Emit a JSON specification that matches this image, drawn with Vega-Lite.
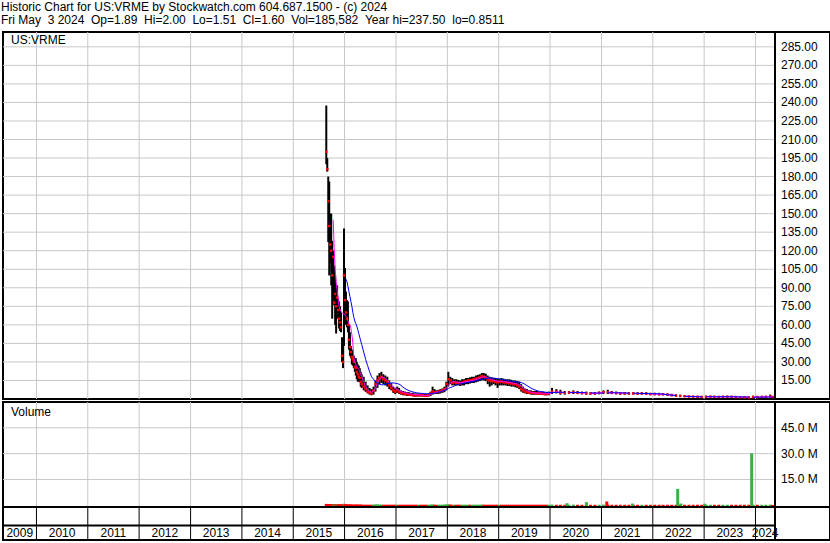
{
 "$schema": "https://vega.github.io/schema/vega-lite/v6.json",
 "background": "white",
 "padding": {"left": 1, "top": 0, "right": 0, "bottom": 0},
 "bounds": "flush",
 "title": {
  "text": ["Historic Chart for US:VRME by Stockwatch.com 604.687.1500 - (c) 2024", "Fri May \u00a03 2024 \u00a0Op=1.89 \u00a0Hi=2.00 \u00a0Lo=1.51 \u00a0Cl=1.60 \u00a0Vol=185,582 \u00a0Year hi=237.50 \u00a0lo=0.8511"],
  "anchor": "start", "font": "Liberation Sans", "fontSize": 12, "fontWeight": "normal", "color": "black", "lineHeight": 13.5, "offset": 3
 },
 "datasets": {
  "px": [
   {"d":"2015-08-24","h":237.5,"l":190,"c":200,"v":0.8,"u":"dn"},
   {"d":"2015-08-31","h":195,"l":184,"c":186,"v":0.5,"u":"dn"},
   {"d":"2015-09-07","h":180,"l":127,"c":160,"v":0.6,"u":"dn"},
   {"d":"2015-09-14","h":176,"l":100,"c":140,"v":0.7,"u":"dn"},
   {"d":"2015-09-21","h":150,"l":110,"c":125,"v":0.5,"u":"dn"},
   {"d":"2015-09-28","h":150,"l":92,"c":120,"v":0.6,"u":"dn"},
   {"d":"2015-10-05","h":128,"l":65,"c":100,"v":0.7,"u":"dn"},
   {"d":"2015-10-12","h":120,"l":80,"c":115,"a":145,"v":0.5,"u":"up"},
   {"d":"2015-10-19","h":108,"l":76,"c":78,"a":122,"v":0.6,"u":"dn"},
   {"d":"2015-10-26","h":100,"l":60,"c":85,"a":105,"v":0.5,"u":"up"},
   {"d":"2015-11-02","h":92,"l":53,"c":75,"a":95,"v":0.6,"u":"dn"},
   {"d":"2015-11-09","h":92,"l":70,"c":82,"a":88,"v":0.4,"u":"up"},
   {"d":"2015-11-16","h":81,"l":65,"c":72,"a":82,"v":0.5,"u":"dn"},
   {"d":"2015-11-23","h":79,"l":57,"c":65,"a":75,"v":0.5,"u":"dn"},
   {"d":"2015-11-30","h":75,"l":55,"c":62,"a":72,"v":0.4,"u":"dn"},
   {"d":"2015-12-07","h":70,"l":54,"c":58,"a":71,"v":0.4,"u":"dn"},
   {"d":"2015-12-14","h":50,"l":30,"c":35,"a":70,"v":0.6,"u":"dn"},
   {"d":"2015-12-21","h":43,"l":25,"c":30,"a":69,"v":0.5,"u":"dn"},
   {"d":"2015-12-28","h":138,"l":43,"c":100,"a":69,"v":0.9,"u":"up"},
   {"d":"2016-01-04","h":106,"l":70,"c":80,"a":68,"v":0.6,"u":"dn"},
   {"d":"2016-01-11","h":87,"l":60,"c":70,"a":67,"b":97,"v":0.5,"u":"dn"},
   {"d":"2016-01-18","h":80,"l":58,"c":65,"a":66,"b":95,"v":0.4,"u":"dn"},
   {"d":"2016-01-25","h":79,"l":54,"c":60,"a":63,"b":91,"v":0.4,"u":"dn"},
   {"d":"2016-02-01","h":60,"l":40,"c":48,"a":61,"b":87,"v":0.5,"u":"dn"},
   {"d":"2016-02-08","h":54,"l":35,"c":42,"a":60,"b":83,"v":0.4,"u":"dn"},
   {"d":"2016-02-15","h":43,"l":33,"c":38,"a":57,"b":79,"v":0.4,"u":"dn"},
   {"d":"2016-02-22","h":40,"l":28,"c":34,"a":52,"b":75,"v":0.4,"u":"dn"},
   {"d":"2016-02-29","h":38,"l":27,"c":32,"a":45,"b":70,"v":0.3,"u":"dn"},
   {"d":"2016-03-07","h":35,"l":25,"c":30,"a":33,"b":66,"v":0.3,"u":"dn"},
   {"d":"2016-03-14","h":33,"l":22,"c":26,"a":30,"b":63,"v":0.3,"u":"dn"},
   {"d":"2016-03-21","h":33,"l":19,"c":25,"a":28,"b":61,"v":0.4,"u":"dn"},
   {"d":"2016-03-28","h":30,"l":16,"c":22,"a":26,"b":59,"v":0.4,"u":"dn"},
   {"d":"2016-04-04","h":28,"l":14,"c":20,"a":25,"b":56,"v":0.3,"u":"dn"},
   {"d":"2016-04-11","h":27,"l":14,"c":18,"a":24,"b":53,"v":0.3,"u":"dn"},
   {"d":"2016-04-18","h":25,"l":14,"c":17,"a":22,"b":50,"v":0.3,"u":"dn"},
   {"d":"2016-04-25","h":22,"l":10,"c":14,"a":20,"b":47,"v":0.4,"u":"dn"},
   {"d":"2016-05-02","h":20,"l":9,"c":12,"a":18,"b":44,"v":0.3,"u":"dn"},
   {"d":"2016-05-16","h":18,"l":7,"c":10,"a":14,"b":38,"v":0.3,"u":"dn"},
   {"d":"2016-05-30","h":14,"l":5.8,"c":8,"a":10,"b":32,"v":0.3,"u":"dn"},
   {"d":"2016-06-13","h":11,"l":4.5,"c":6,"a":7.5,"b":27,"v":0.3,"u":"dn"},
   {"d":"2016-06-27","h":9,"l":3.5,"c":5,"a":6,"b":22,"v":0.3,"u":"dn"},
   {"d":"2016-07-11","h":8,"l":3,"c":4.5,"a":5.5,"b":18,"v":0.3,"u":"dn"},
   {"d":"2016-07-25","h":10,"l":3.6,"c":7,"a":6.5,"b":16,"v":0.4,"u":"up"},
   {"d":"2016-08-08","h":15,"l":6,"c":12,"a":9,"b":14,"v":0.5,"u":"up"},
   {"d":"2016-08-22","h":19,"l":9,"c":15,"a":13,"b":12.5,"v":0.5,"u":"up"},
   {"d":"2016-09-05","h":21,"l":12,"c":17,"a":16,"b":11.8,"v":0.4,"u":"up"},
   {"d":"2016-09-19","h":22,"l":13,"c":18,"a":17.5,"b":11.5,"v":0.4,"u":"up"},
   {"d":"2016-10-03","h":20,"l":12,"c":16,"a":17.5,"b":11.5,"v":0.3,"u":"dn"},
   {"d":"2016-10-17","h":19,"l":11,"c":15,"a":16.5,"b":12,"v":0.3,"u":"dn"},
   {"d":"2016-10-31","h":18,"l":10,"c":14,"a":15,"b":12.5,"v":0.3,"u":"dn"},
   {"d":"2016-11-14","h":15,"l":8,"c":11,"a":13.5,"b":12.8,"v":0.3,"u":"dn"},
   {"d":"2016-11-28","h":13,"l":7,"c":9,"a":11.5,"b":13,"v":0.3,"u":"dn"},
   {"d":"2016-12-12","h":10,"l":5,"c":7,"a":9.8,"b":13,"v":0.3,"u":"dn"},
   {"d":"2016-12-26","h":9,"l":4,"c":6,"a":8.5,"b":12.8,"v":0.3,"u":"dn"},
   {"d":"2017-01-09","h":10,"l":5,"c":7,"a":8,"b":12.5,"v":0.3,"u":"up"},
   {"d":"2017-01-23","h":9,"l":4,"c":5.5,"a":7,"b":12,"v":0.3,"u":"dn"},
   {"d":"2017-02-06","h":7,"l":3.5,"c":5,"a":6,"b":11,"v":0.3,"u":"dn"},
   {"d":"2017-02-20","h":6.5,"l":3,"c":4.5,"a":5.5,"b":9.5,"v":0.3,"u":"dn"},
   {"d":"2017-03-06","h":6,"l":3,"c":4,"a":5,"b":8.5,"v":0.3,"u":"dn"},
   {"d":"2017-03-20","h":5.5,"l":2.5,"c":4,"a":4.6,"b":7.5,"v":0.3,"u":"dn"},
   {"d":"2017-04-03","h":5.5,"l":2.5,"c":3.5,"a":4.3,"b":6.8,"v":0.3,"u":"dn"},
   {"d":"2017-04-17","h":5,"l":2.5,"c":3.5,"a":4,"b":6.2,"v":0.3,"u":"dn"},
   {"d":"2017-05-01","h":5,"l":2.2,"c":3,"a":3.8,"b":5.7,"v":0.3,"u":"dn"},
   {"d":"2017-05-15","h":4.5,"l":2,"c":3,"a":3.6,"b":5.3,"v":0.3,"u":"dn"},
   {"d":"2017-05-29","h":4.5,"l":2,"c":3,"a":3.4,"b":5,"v":0.3,"u":"dn"},
   {"d":"2017-06-12","h":4.5,"l":2,"c":3.2,"a":3.3,"b":4.8,"v":0.3,"u":"up"},
   {"d":"2017-06-26","h":4.5,"l":2,"c":3,"a":3.2,"b":4.6,"v":0.3,"u":"dn"},
   {"d":"2017-07-10","h":4.2,"l":2,"c":3,"a":3,"b":4.5,"v":0.3,"u":"dn"},
   {"d":"2017-07-24","h":4,"l":1.8,"c":2.6,"a":2.8,"b":4.4,"v":0.3,"u":"dn"},
   {"d":"2017-08-07","h":4,"l":1.8,"c":2.6,"a":2.7,"b":4.3,"v":0.3,"u":"dn"},
   {"d":"2017-08-21","h":4.5,"l":2,"c":3,"a":2.7,"b":4.3,"v":0.3,"u":"up"},
   {"d":"2017-09-04","h":6,"l":2.5,"c":4.5,"a":3.5,"b":4.3,"v":0.4,"u":"up"},
   {"d":"2017-09-18","h":10,"l":3.5,"c":6,"a":4.5,"b":4.5,"v":0.5,"u":"up"},
   {"d":"2017-10-02","h":8,"l":4,"c":5.5,"a":5.2,"b":4.7,"v":0.3,"u":"dn"},
   {"d":"2017-10-16","h":7,"l":4,"c":5.5,"a":5.5,"b":5,"v":0.3,"u":"dn"},
   {"d":"2017-10-30","h":7.5,"l":4,"c":6,"a":5.8,"b":5.5,"v":0.3,"u":"up"},
   {"d":"2017-11-13","h":8,"l":4.5,"c":6.5,"a":6,"b":6,"v":0.3,"u":"up"},
   {"d":"2017-11-27","h":8.5,"l":5,"c":7,"a":6.5,"b":6.5,"v":0.3,"u":"up"},
   {"d":"2017-12-11","h":10,"l":5.5,"c":8,"a":7.2,"b":7,"v":0.4,"u":"up"},
   {"d":"2017-12-25","h":14,"l":7,"c":12,"a":8.5,"b":7.5,"v":0.5,"u":"up"},
   {"d":"2018-01-08","h":22,"l":10,"c":16,"a":11,"b":8.5,"v":0.6,"u":"up"},
   {"d":"2018-01-22","h":18,"l":12,"c":15,"a":13,"b":9.2,"v":0.4,"u":"dn"},
   {"d":"2018-02-05","h":17,"l":11,"c":13,"a":14,"b":9.8,"v":0.3,"u":"dn"},
   {"d":"2018-02-19","h":16,"l":11,"c":13.5,"a":14,"b":10.5,"v":0.3,"u":"up"},
   {"d":"2018-03-05","h":16,"l":11,"c":13,"a":13.8,"b":11.2,"v":0.3,"u":"dn"},
   {"d":"2018-03-19","h":15.5,"l":11,"c":13,"a":13.5,"b":11.8,"v":0.3,"u":"dn"},
   {"d":"2018-04-02","h":15,"l":10.5,"c":12.5,"a":13.3,"b":12.2,"v":0.3,"u":"dn"},
   {"d":"2018-04-16","h":16,"l":11,"c":13.5,"a":13.3,"b":12.5,"v":0.3,"u":"up"},
   {"d":"2018-04-30","h":16,"l":11,"c":14,"a":13.6,"b":12.8,"v":0.3,"u":"up"},
   {"d":"2018-05-14","h":17,"l":12,"c":14.5,"a":14,"b":13.1,"v":0.3,"u":"up"},
   {"d":"2018-05-28","h":17,"l":12,"c":15,"a":14.3,"b":13.4,"v":0.3,"u":"up"},
   {"d":"2018-06-11","h":17.5,"l":12.5,"c":15,"a":14.6,"b":13.7,"v":0.3,"u":"dn"},
   {"d":"2018-06-25","h":18,"l":13,"c":15.5,"a":15,"b":14,"v":0.3,"u":"up"},
   {"d":"2018-07-09","h":18,"l":13,"c":16,"a":15.3,"b":14.3,"v":0.3,"u":"up"},
   {"d":"2018-07-23","h":19,"l":13.5,"c":16.5,"a":15.7,"b":14.7,"v":0.3,"u":"up"},
   {"d":"2018-08-06","h":19.5,"l":14,"c":17,"a":16.2,"b":15.1,"v":0.3,"u":"up"},
   {"d":"2018-08-20","h":20,"l":14.5,"c":17.5,"a":16.8,"b":15.5,"v":0.3,"u":"up"},
   {"d":"2018-09-03","h":21,"l":15,"c":18.5,"a":17.5,"b":15.9,"v":0.4,"u":"up"},
   {"d":"2018-09-17","h":21,"l":15,"c":18,"a":18,"b":16.3,"v":0.3,"u":"dn"},
   {"d":"2018-10-01","h":20.5,"l":14.5,"c":17,"a":18,"b":16.6,"v":0.3,"u":"dn"},
   {"d":"2018-10-15","h":19,"l":12,"c":15.5,"a":17.2,"b":16.8,"v":0.3,"u":"dn"},
   {"d":"2018-10-29","h":18,"l":10,"c":15,"a":16.5,"b":17,"v":0.3,"u":"dn"},
   {"d":"2018-11-12","h":17.5,"l":11,"c":14.5,"a":15.8,"b":17,"v":0.3,"u":"dn"},
   {"d":"2018-11-26","h":17,"l":12,"c":14.5,"a":15.2,"b":16.9,"v":0.3,"u":"dn"},
   {"d":"2018-12-10","h":17,"l":11,"c":14,"a":14.8,"b":16.7,"v":0.3,"u":"dn"},
   {"d":"2018-12-24","h":16.5,"l":9,"c":13.5,"a":14.5,"b":16.5,"v":0.3,"u":"dn"},
   {"d":"2019-01-07","h":16.5,"l":11,"c":14,"a":14.3,"b":16.2,"v":0.3,"u":"up"},
   {"d":"2019-01-21","h":17,"l":11,"c":14,"a":14.2,"b":16,"v":0.3,"u":"dn"},
   {"d":"2019-02-04","h":16.5,"l":11,"c":13.5,"a":14,"b":15.6,"v":0.3,"u":"dn"},
   {"d":"2019-02-18","h":16,"l":11,"c":13.5,"a":14,"b":15.3,"v":0.3,"u":"dn"},
   {"d":"2019-03-04","h":16,"l":10.5,"c":13,"a":13.7,"b":15,"v":0.3,"u":"dn"},
   {"d":"2019-03-18","h":16,"l":10.5,"c":13,"a":13.5,"b":14.7,"v":0.3,"u":"dn"},
   {"d":"2019-04-01","h":15.5,"l":10,"c":12.5,"a":13.2,"b":14.4,"v":0.3,"u":"dn"},
   {"d":"2019-04-15","h":15,"l":10,"c":12,"a":12.8,"b":14.2,"v":0.3,"u":"dn"},
   {"d":"2019-04-29","h":15,"l":9.5,"c":12,"a":12.5,"b":14,"v":0.3,"u":"dn"},
   {"d":"2019-05-13","h":14.5,"l":9,"c":11,"a":12.2,"b":13.9,"v":0.3,"u":"dn"},
   {"d":"2019-05-27","h":14,"l":8,"c":10,"a":11.5,"b":13.7,"v":0.3,"u":"dn"},
   {"d":"2019-06-10","h":12,"l":6,"c":8,"a":10.5,"b":13.3,"v":0.3,"u":"dn"},
   {"d":"2019-06-24","h":10,"l":5,"c":7,"a":9,"b":12.7,"v":0.3,"u":"dn"},
   {"d":"2019-07-08","h":8.5,"l":4.5,"c":6,"a":7.8,"b":11.8,"v":0.3,"u":"dn"},
   {"d":"2019-07-22","h":8,"l":4,"c":5.5,"a":6.8,"b":10.8,"v":0.3,"u":"dn"},
   {"d":"2019-08-05","h":7,"l":4,"c":5,"a":6,"b":9.8,"v":0.3,"u":"dn"},
   {"d":"2019-08-19","h":7,"l":3.5,"c":5,"a":5.5,"b":8.8,"v":0.3,"u":"dn"},
   {"d":"2019-09-02","h":6.5,"l":3.5,"c":5,"a":5.2,"b":8,"v":0.3,"u":"dn"},
   {"d":"2019-09-16","h":6.5,"l":3.5,"c":4.8,"a":5,"b":7.3,"v":0.3,"u":"dn"},
   {"d":"2019-09-30","h":6.5,"l":3.5,"c":4.5,"a":4.8,"b":6.8,"v":0.3,"u":"dn"},
   {"d":"2019-10-14","h":6,"l":3.5,"c":4.5,"a":4.7,"b":6.3,"v":0.3,"u":"dn"},
   {"d":"2019-10-28","h":6,"l":3.5,"c":4.5,"a":4.6,"b":6,"v":0.3,"u":"dn"},
   {"d":"2019-11-11","h":6,"l":3.2,"c":4.2,"a":4.5,"b":5.8,"v":0.3,"u":"dn"},
   {"d":"2019-11-25","h":5.5,"l":3,"c":4,"a":4.3,"b":5.6,"v":0.3,"u":"dn"},
   {"d":"2019-12-09","h":5.5,"l":3,"c":4,"a":4.2,"b":5.4,"v":0.3,"u":"dn"},
   {"d":"2019-12-23","h":6,"l":3,"c":4.5,"a":4.3,"b":5.2,"v":0.3,"u":"up"},
   {"d":"2020-01-15","h":9,"l":4,"c":6,"a":5,"b":5.2,"v":0.4,"u":"up"},
   {"d":"2020-02-15","h":8,"l":4.5,"c":6,"a":5.8,"b":5.3,"v":0.3,"u":"dn"},
   {"d":"2020-03-15","h":7.5,"l":3.5,"c":5,"a":5.5,"b":5.4,"v":0.3,"u":"dn"},
   {"d":"2020-04-15","h":6.5,"l":3.5,"c":5,"a":5.2,"b":5.4,"v":0.3,"u":"dn"},
   {"d":"2020-05-15","h":6.5,"l":4,"c":5.2,"a":5.1,"b":5.4,"v":0.3,"u":"up"},
   {"d":"2020-06-15","h":7,"l":4,"c":5.5,"a":5.3,"b":5.3,"v":0.4,"u":"up"},
   {"d":"2020-07-15","h":6.5,"l":4,"c":5,"a":5.2,"b":5.3,"v":0.3,"u":"dn"},
   {"d":"2020-08-15","h":6,"l":3.8,"c":4.8,"a":5,"b":5.2,"v":0.3,"u":"dn"},
   {"d":"2020-09-15","h":6,"l":3.5,"c":4.5,"a":4.8,"b":5.1,"v":0.3,"u":"dn"},
   {"d":"2020-10-15","h":5.5,"l":3.5,"c":4.5,"a":4.6,"b":5,"v":0.3,"u":"dn"},
   {"d":"2020-11-15","h":5.5,"l":3.5,"c":4.5,"a":4.5,"b":4.9,"v":0.3,"u":"dn"},
   {"d":"2020-12-15","h":6,"l":3.8,"c":5,"a":4.7,"b":4.8,"v":0.3,"u":"up"},
   {"d":"2021-01-15","h":7,"l":4,"c":5.5,"a":5.2,"b":4.8,"v":0.4,"u":"up"},
   {"d":"2021-02-15","h":7.5,"l":4,"c":5.5,"a":5.6,"b":4.9,"v":0.4,"u":"dn"},
   {"d":"2021-03-15","h":6.5,"l":4,"c":5,"a":5.3,"b":5,"v":0.3,"u":"dn"},
   {"d":"2021-04-15","h":6,"l":3.8,"c":4.8,"a":5,"b":5,"v":0.3,"u":"dn"},
   {"d":"2021-05-15","h":5.5,"l":3.5,"c":4.5,"a":4.8,"b":5,"v":0.3,"u":"dn"},
   {"d":"2021-06-15","h":5.5,"l":3.5,"c":4.5,"a":4.6,"b":4.9,"v":0.3,"u":"dn"},
   {"d":"2021-07-15","h":5.5,"l":3.5,"c":4.5,"a":4.5,"b":4.8,"v":0.3,"u":"dn"},
   {"d":"2021-08-15","h":5.5,"l":3.5,"c":4.5,"a":4.5,"b":4.7,"v":0.3,"u":"dn"},
   {"d":"2021-09-15","h":5.5,"l":3.5,"c":4.3,"a":4.4,"b":4.6,"v":0.3,"u":"dn"},
   {"d":"2021-10-15","h":5.5,"l":3.5,"c":4.5,"a":4.4,"b":4.5,"v":0.3,"u":"up"},
   {"d":"2021-11-15","h":5.5,"l":3.3,"c":4.2,"a":4.3,"b":4.5,"v":0.3,"u":"dn"},
   {"d":"2021-12-15","h":5,"l":3,"c":4,"a":4.2,"b":4.4,"v":0.3,"u":"dn"},
   {"d":"2022-01-15","h":5,"l":3,"c":4,"a":4,"b":4.3,"v":0.3,"u":"dn"},
   {"d":"2022-02-15","h":5,"l":3,"c":3.8,"a":3.9,"b":4.2,"v":0.3,"u":"dn"},
   {"d":"2022-03-15","h":4.8,"l":3,"c":3.8,"a":3.8,"b":4,"v":0.3,"u":"dn"},
   {"d":"2022-04-15","h":4.5,"l":2.8,"c":3.5,"a":3.6,"b":3.4,"v":0.3,"u":"dn"},
   {"d":"2022-05-15","h":4.2,"l":2.5,"c":3,"a":3.3,"b":3.1,"v":0.3,"u":"dn"},
   {"d":"2022-06-15","h":3.8,"l":2,"c":2.6,"a":2.9,"b":2.8,"v":0.3,"u":"dn"},
   {"d":"2022-07-15","h":3.5,"l":1.8,"c":2.4,"a":2.6,"b":2.5,"v":0.3,"u":"dn"},
   {"d":"2022-08-15","h":3,"l":1.6,"c":2.2,"a":2.4,"b":2.2,"v":0.3,"u":"dn"},
   {"d":"2022-09-15","h":2.8,"l":1.5,"c":2,"a":2.2,"b":2,"v":0.3,"u":"dn"},
   {"d":"2022-10-15","h":2.6,"l":1.4,"c":1.9,"a":2,"b":1.9,"v":0.3,"u":"dn"},
   {"d":"2022-11-15","h":2.5,"l":1.3,"c":1.8,"a":1.9,"b":1.85,"v":0.3,"u":"dn"},
   {"d":"2022-12-15","h":2.4,"l":1.2,"c":1.7,"a":1.8,"b":1.8,"v":0.3,"u":"dn"},
   {"d":"2023-01-15","h":2.6,"l":1.3,"c":1.8,"a":1.8,"b":1.8,"v":0.3,"u":"up"},
   {"d":"2023-02-15","h":2.6,"l":1.4,"c":1.9,"a":1.9,"b":1.8,"v":0.3,"u":"up"},
   {"d":"2023-03-15","h":2.5,"l":1.3,"c":1.8,"a":1.9,"b":1.8,"v":0.3,"u":"dn"},
   {"d":"2023-04-15","h":2.4,"l":1.2,"c":1.7,"a":1.8,"b":1.8,"v":0.3,"u":"dn"},
   {"d":"2023-05-15","h":2.5,"l":1.3,"c":1.8,"a":1.8,"b":1.8,"v":0.3,"u":"up"},
   {"d":"2023-06-15","h":2.6,"l":1.4,"c":1.9,"a":1.8,"b":1.8,"v":0.3,"u":"up"},
   {"d":"2023-07-15","h":2.5,"l":1.3,"c":1.8,"a":1.8,"b":1.8,"v":0.3,"u":"dn"},
   {"d":"2023-08-15","h":2.4,"l":1.2,"c":1.6,"a":1.7,"b":1.8,"v":0.3,"u":"dn"},
   {"d":"2023-09-15","h":2.2,"l":1.1,"c":1.5,"a":1.6,"b":1.7,"v":0.3,"u":"dn"},
   {"d":"2023-10-15","h":2,"l":0.9,"c":1.3,"a":1.4,"b":1.7,"v":0.3,"u":"dn"},
   {"d":"2023-11-15","h":1.9,"l":0.85,"c":1.2,"a":1.3,"b":1.6,"v":0.3,"u":"dn"},
   {"d":"2023-12-15","h":2.6,"l":1,"c":1.6,"a":1.4,"b":1.5,"v":0.4,"u":"up"},
   {"d":"2024-01-15","h":2.3,"l":1.2,"c":1.6,"a":1.6,"b":1.5,"v":0.3,"u":"dn"},
   {"d":"2024-02-15","h":2.2,"l":1.3,"c":1.7,"a":1.6,"b":1.5,"v":0.3,"u":"up"},
   {"d":"2024-03-15","h":2.4,"l":1.3,"c":1.8,"a":1.7,"b":1.6,"v":0.3,"u":"up"},
   {"d":"2024-04-15","h":3.6,"l":1.4,"c":2,"a":1.8,"b":1.6,"v":0.4,"u":"up"},
   {"d":"2024-05-03","h":2,"l":1.51,"c":1.6,"a":1.8,"b":1.6,"v":0.2,"u":"dn"},
   {"d":"2020-05-01","v":1.2,"u":"up"},
   {"d":"2020-09-16","v":1.8,"u":"up"},
   {"d":"2021-02-08","v":2.2,"u":"dn"},
   {"d":"2021-08-10","v":1.0,"u":"up"},
   {"d":"2022-06-27","v":9.5,"u":"up"},
   {"d":"2022-07-20","v":1.0,"u":"up"},
   {"d":"2023-01-05","v":0.9,"u":"up"},
   {"d":"2023-12-05","v":30.2,"u":"up"}
  ],
  "yrs": [
   {"t":"2009-09-04","y":"2009"},
   {"t":"2010-07-02","y":"2010","s":"2010-01-01"},{"t":"2011-07-02","y":"2011","s":"2011-01-01"},{"t":"2012-07-02","y":"2012","s":"2012-01-01"},
   {"t":"2013-07-02","y":"2013","s":"2013-01-01"},{"t":"2014-07-02","y":"2014","s":"2014-01-01"},{"t":"2015-07-02","y":"2015","s":"2015-01-01"},
   {"t":"2016-07-02","y":"2016","s":"2016-01-01"},{"t":"2017-07-02","y":"2017","s":"2017-01-01"},{"t":"2018-07-02","y":"2018","s":"2018-01-01"},
   {"t":"2019-07-02","y":"2019","s":"2019-01-01"},{"t":"2020-07-02","y":"2020","s":"2020-01-01"},{"t":"2021-07-02","y":"2021","s":"2021-01-01"},
   {"t":"2022-07-02","y":"2022","s":"2022-01-01"},{"t":"2023-07-02","y":"2023","s":"2023-01-01"},{"t":"2024-03-10","y":"2024","s":"2024-01-01"}
  ],
  "pg": [
   {"g":15},{"g":30},{"g":45},{"g":60},{"g":75},{"g":90},{"g":105},{"g":120},{"g":135},{"g":150},
   {"g":165},{"g":180},{"g":195},{"g":210},{"g":225},{"g":240},{"g":255},{"g":270},{"g":285}
  ],
  "vg": [
   {"g":15,"lab":"15.0 M"},{"g":30,"lab":"30.0 M"},{"g":45,"lab":"45.0 M"}
  ]
 },
 "spacing": 3,
 "vconcat": [
  {
   "width": 827, "height": 367,
   "data": {"name": "px"},
   "layer": [
    {
     "data": {"name": "yrs"},
     "mark": {"type": "rule", "color": "#c8c8c8", "strokeWidth": 1},
     "encoding": {
      "x": {"field": "s", "type": "temporal", "scale": {"domain": [{"year": 2009, "month": 5, "date": 8}, {"year": 2024, "month": 5, "date": 19}], "range": [0, 772], "nice": false}, "axis": null}
     }
    },
    {
     "data": {"name": "pg"},
     "mark": {"type": "rule", "color": "#c8c8c8", "strokeWidth": 1},
     "encoding": {
      "y": {"field": "g", "type": "quantitative", "scale": {"domain": [0, 297], "nice": false, "zero": false}, "axis": null},
      "x": {"datum": {"year": 2009, "month": 5, "date": 8}, "type": "temporal", "scale": {"domain": [{"year": 2009, "month": 5, "date": 8}, {"year": 2024, "month": 5, "date": 19}], "range": [0, 772], "nice": false}, "axis": null},
      "x2": {"datum": {"year": 2024, "month": 5, "date": 19}}
     }
    },
    {
     "data": {"name": "pg"},
     "mark": {"type": "text", "align": "left", "baseline": "middle", "dx": 6, "font": "Liberation Sans", "fontSize": 12, "color": "black"},
     "encoding": {
      "y": {"field": "g", "type": "quantitative", "scale": {"domain": [0, 297], "nice": false, "zero": false}, "axis": null},
      "x": {"datum": {"year": 2024, "month": 5, "date": 19}, "type": "temporal", "scale": {"domain": [{"year": 2009, "month": 5, "date": 8}, {"year": 2024, "month": 5, "date": 19}], "range": [0, 772], "nice": false}, "axis": null},
      "text": {"field": "g", "type": "quantitative", "format": ".2f"}
     }
    },
    {
     "mark": {"type": "rule", "color": "black", "strokeWidth": 2},
     "encoding": {
      "x": {"field": "d", "type": "temporal", "scale": {"domain": [{"year": 2009, "month": 5, "date": 8}, {"year": 2024, "month": 5, "date": 19}], "range": [0, 772], "nice": false}, "axis": null},
      "y": {"field": "l", "type": "quantitative", "scale": {"domain": [0, 297], "nice": false, "zero": false}, "axis": null},
      "y2": {"field": "h"}
     }
    },
    {
     "mark": {"type": "square", "color": "#ff0000", "size": 6, "opacity": 1},
     "encoding": {
      "x": {"field": "d", "type": "temporal", "scale": {"domain": [{"year": 2009, "month": 5, "date": 8}, {"year": 2024, "month": 5, "date": 19}], "range": [0, 772], "nice": false}, "axis": null},
      "y": {"field": "c", "type": "quantitative", "scale": {"domain": [0, 297], "nice": false, "zero": false}, "axis": null}
     }
    },
    {
     "mark": {"type": "line", "color": "#ff00ff", "strokeWidth": 1},
     "encoding": {
      "x": {"field": "d", "type": "temporal", "scale": {"domain": [{"year": 2009, "month": 5, "date": 8}, {"year": 2024, "month": 5, "date": 19}], "range": [0, 772], "nice": false}, "axis": null},
      "y": {"field": "a", "type": "quantitative", "scale": {"domain": [0, 297], "nice": false, "zero": false}, "axis": null}
     }
    },
    {
     "mark": {"type": "line", "color": "#0000ff", "strokeWidth": 1},
     "encoding": {
      "x": {"field": "d", "type": "temporal", "scale": {"domain": [{"year": 2009, "month": 5, "date": 8}, {"year": 2024, "month": 5, "date": 19}], "range": [0, 772], "nice": false}, "axis": null},
      "y": {"field": "b", "type": "quantitative", "scale": {"domain": [0, 297], "nice": false, "zero": false}, "axis": null}
     }
    },
    {
     "data": {"values": [{"lab": "US:VRME"}]},
     "mark": {"type": "text", "align": "left", "baseline": "alphabetic", "dx": 8, "dy": 12, "font": "Liberation Sans", "fontSize": 12, "color": "black"},
     "encoding": {
      "x": {"datum": {"year": 2009, "month": 5, "date": 8}, "type": "temporal", "scale": {"domain": [{"year": 2009, "month": 5, "date": 8}, {"year": 2024, "month": 5, "date": 19}], "range": [0, 772], "nice": false}, "axis": null},
      "y": {"datum": 297, "type": "quantitative", "scale": {"domain": [0, 297], "nice": false, "zero": false}, "axis": null},
      "text": {"field": "lab"}
     }
    },
    {
     "data": {"values": [{}]},
     "mark": {"type": "rule", "color": "black", "strokeWidth": 2},
     "encoding": {
      "x": {"datum": {"year": 2024, "month": 5, "date": 19}, "type": "temporal", "scale": {"domain": [{"year": 2009, "month": 5, "date": 8}, {"year": 2024, "month": 5, "date": 19}], "range": [0, 772], "nice": false}, "axis": null}
     }
    }
   ]
  },
  {
   "spacing": 0,
   "bounds": "flush",
   "vconcat": [
    {
     "width": 827, "height": 105,
     "data": {"name": "px"},
     "layer": [
      {
       "data": {"name": "yrs"},
       "mark": {"type": "rule", "color": "#c8c8c8", "strokeWidth": 1},
       "encoding": {
        "x": {"field": "s", "type": "temporal", "scale": {"domain": [{"year": 2009, "month": 5, "date": 8}, {"year": 2024, "month": 5, "date": 19}], "range": [0, 772], "nice": false}, "axis": null}
       }
      },
      {
       "data": {"name": "vg"},
       "mark": {"type": "rule", "color": "#c8c8c8", "strokeWidth": 1},
       "encoding": {
        "y": {"field": "g", "type": "quantitative", "scale": {"domain": [-1, 60], "nice": false, "zero": false}, "axis": null},
        "x": {"datum": {"year": 2009, "month": 5, "date": 8}, "type": "temporal", "scale": {"domain": [{"year": 2009, "month": 5, "date": 8}, {"year": 2024, "month": 5, "date": 19}], "range": [0, 772], "nice": false}, "axis": null},
        "x2": {"datum": {"year": 2024, "month": 5, "date": 19}}
       }
      },
      {
       "data": {"name": "vg"},
       "mark": {"type": "text", "align": "left", "baseline": "middle", "dx": 6, "font": "Liberation Sans", "fontSize": 12, "color": "black"},
       "encoding": {
        "y": {"field": "g", "type": "quantitative", "scale": {"domain": [-1, 60], "nice": false, "zero": false}, "axis": null},
        "x": {"datum": {"year": 2024, "month": 5, "date": 19}, "type": "temporal", "scale": {"domain": [{"year": 2009, "month": 5, "date": 8}, {"year": 2024, "month": 5, "date": 19}], "range": [0, 772], "nice": false}, "axis": null},
        "text": {"field": "lab"}
       }
      },
      {
       "mark": {"type": "rule", "strokeWidth": 3},
       "encoding": {
        "x": {"field": "d", "type": "temporal", "scale": {"domain": [{"year": 2009, "month": 5, "date": 8}, {"year": 2024, "month": 5, "date": 19}], "range": [0, 772], "nice": false}, "axis": null},
        "y": {"field": "v", "type": "quantitative", "scale": {"domain": [-1, 60], "nice": false, "zero": false}, "axis": null},
        "y2": {"datum": -1},
        "color": {"field": "u", "type": "nominal", "scale": {"domain": ["up", "dn"], "range": ["#3cb043", "#ff0000"]}, "legend": null}
       }
      },
      {
       "data": {"values": [{"lab": "Volume"}]},
       "mark": {"type": "text", "align": "left", "baseline": "alphabetic", "dx": 8, "dy": 14, "font": "Liberation Sans", "fontSize": 12, "color": "black"},
       "encoding": {
        "x": {"datum": {"year": 2009, "month": 5, "date": 8}, "type": "temporal", "scale": {"domain": [{"year": 2009, "month": 5, "date": 8}, {"year": 2024, "month": 5, "date": 19}], "range": [0, 772], "nice": false}, "axis": null},
        "y": {"datum": 60, "type": "quantitative", "scale": {"domain": [-1, 60], "nice": false, "zero": false}, "axis": null},
        "text": {"field": "lab"}
       }
      },
      {
       "data": {"values": [{}]},
       "mark": {"type": "rule", "color": "black", "strokeWidth": 2},
       "encoding": {
        "x": {"datum": {"year": 2024, "month": 5, "date": 19}, "type": "temporal", "scale": {"domain": [{"year": 2009, "month": 5, "date": 8}, {"year": 2024, "month": 5, "date": 19}], "range": [0, 772], "nice": false}, "axis": null}
       }
      }
     ]
    },
    {
     "width": 827, "height": 33,
     "data": {"name": "yrs"},
     "layer": [
      {
       "mark": {"type": "rule", "color": "black", "strokeWidth": 1},
       "encoding": {
        "x": {"field": "s", "type": "temporal", "scale": {"domain": [{"year": 2009, "month": 5, "date": 8}, {"year": 2024, "month": 5, "date": 19}], "range": [0, 772], "nice": false}, "axis": null}
       }
      },
      {
       "mark": {"type": "text", "align": "center", "baseline": "middle", "font": "Liberation Sans", "fontSize": 12, "color": "black"},
       "encoding": {
        "x": {"field": "t", "type": "temporal", "scale": {"domain": [{"year": 2009, "month": 5, "date": 8}, {"year": 2024, "month": 5, "date": 19}], "range": [0, 772], "nice": false}, "axis": null},
        "y": {"datum": 7, "type": "quantitative", "scale": {"domain": [0, 33], "nice": false, "zero": false}, "axis": null},
        "text": {"field": "y"}
       }
      },
      {
       "data": {"values": [{}]},
       "mark": {"type": "rule", "color": "black", "strokeWidth": 2},
       "encoding": {
        "y": {"datum": 14.5, "type": "quantitative", "scale": {"domain": [0, 33], "nice": false, "zero": false}, "axis": null},
        "x": {"datum": {"year": 2009, "month": 5, "date": 8}, "type": "temporal", "scale": {"domain": [{"year": 2009, "month": 5, "date": 8}, {"year": 2024, "month": 5, "date": 19}], "range": [0, 772], "nice": false}, "axis": null},
        "x2": {"datum": {"year": 2024, "month": 5, "date": 19}}
       }
      },
      {
       "data": {"values": [{}]},
       "mark": {"type": "rule", "color": "black", "strokeWidth": 2},
       "encoding": {
        "x": {"datum": {"year": 2024, "month": 5, "date": 19}, "type": "temporal", "scale": {"domain": [{"year": 2009, "month": 5, "date": 8}, {"year": 2024, "month": 5, "date": 19}], "range": [0, 772], "nice": false}, "axis": null}
       }
      }
     ]
    }
   ]
  }
 ],
 "config": {
  "view": {"stroke": "black", "strokeWidth": 2},
  "font": "Liberation Sans"
 }
}
